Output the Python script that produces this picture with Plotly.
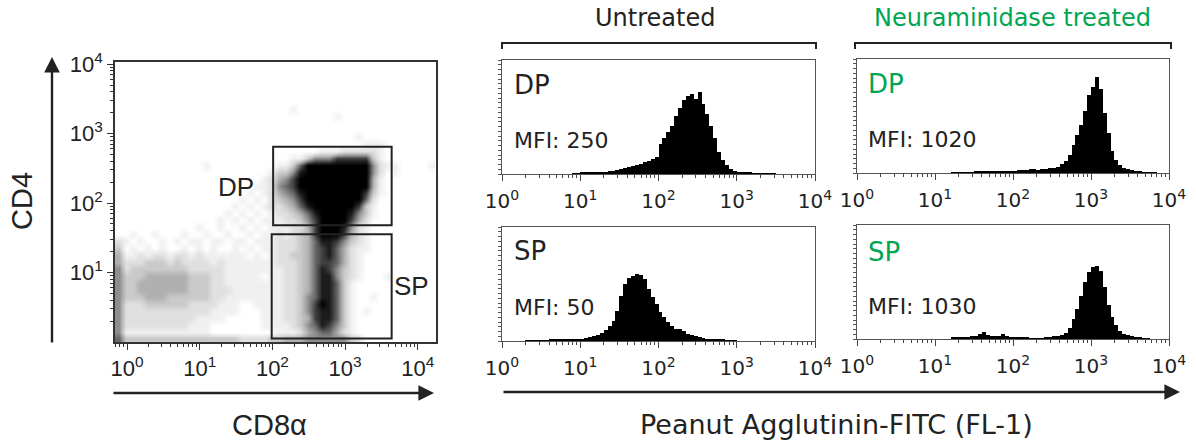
import numpy as np
import plotly.graph_objects as go

W, H = 1196, 447

# ---------------- data ----------------
DECADES = [0, 1, 2, 3, 4]
DECADE_LABELS = ["10<sup>0</sup>", "10<sup>1</sup>", "10<sup>2</sup>", "10<sup>3</sup>", "10<sup>4</sup>"]
GROUPS = ["Untreated", "Neuraminidase treated"]
POPULATIONS = ["DP", "DP", "SP", "SP"]
MFI_LABELS = ["MFI: 250", "MFI: 1020", "MFI: 50", "MFI: 1030"]

BIN_WIDTH = 0.05  # decades per histogram bin (80 bins from 10^0 to 10^4)
HIST_DP_UNTREATED = [0] * 18 + [0.5, 0.8,
    1.5, 1.7, 1.8, 2, 2, 2.2, 2.5, 3, 3.5, 4.5, 5, 6, 7, 8, 9, 10, 12, 13, 15, 17,
    30, 36, 42, 48, 58, 66, 74, 78, 80, 75, 82, 70, 60, 48, 36, 22, 14, 9, 5, 3.5,
    2.5, 2, 1.5, 1.2, 1, 0.8, 0.6, 0.5, 0.3, 0.3] + [0] * 10
HIST_DP_NEURAMINIDASE = [0] * 24 + [0.5, 0.5, 0.7, 0.8,
    1, 1, 1.2, 1.3, 1.5, 1.5, 1.6, 1.8, 1.8, 2, 2, 2.2,
    2.5, 3, 3.5, 3, 4, 4, 3.5, 4.5, 4.5, 5,
    5.5, 6.5, 9, 12, 18, 28, 38, 48, 62, 78,
    86, 96, 84, 60, 40, 22, 13, 8, 5, 4,
    3, 2, 1.5, 1, 0.8, 0.5, 0.5, 0, 0, 0]
HIST_SP_UNTREATED = [0] * 6 + [0.5, 0.5, 0.7, 0.8,
    1, 1, 1.2, 1.3, 1.2, 1.5, 1.5, 1.8, 1.8, 2,
    2.5, 3, 4, 5, 6.5, 8, 11, 15, 20, 30,
    45, 57, 63, 65, 67, 66, 62, 52, 44, 37,
    29, 24, 19, 15, 12, 12, 10, 7, 6, 5,
    4, 3.5, 2.5, 2, 2, 1.5, 1.5, 1, 0.5, 0.5] + [0] * 20
HIST_SP_NEURAMINIDASE = [0] * 24 + [1.5, 1.5, 2, 2, 2.5, 3, 3, 5, 7, 4,
    3, 3, 3.5, 5, 3, 2.5, 2.5, 2.5, 2, 2,
    1, 0.5, 0.5, 0.8, 1.5, 2.5, 3, 3.5, 4.5, 6,
    11, 20, 30, 43, 57, 67, 72, 73, 68, 52,
    34, 22, 14, 8, 5, 4, 3, 2, 1.5, 1,
    0.5, 0, 0, 0, 0, 0]
HISTOGRAMS = [HIST_DP_UNTREATED, HIST_DP_NEURAMINIDASE, HIST_SP_UNTREATED, HIST_SP_NEURAMINIDASE]

# CD4 (rows, top first) vs CD8a (columns) dot-plot darkness, 0-9 per 0.1-decade cell
DENSITY_CELL = 0.1
DENSITY_X_START = -0.165
DENSITY_ROWS = [
    "0000000000" "0000000000" "0000000000" "0000000000" "0000",
    "0000000000" "0000000000" "0000000000" "0000000000" "0000",
    "0000000000" "0000000000" "0000000000" "0000000000" "0000",
    "0000000000" "0000000000" "0000000000" "0000000000" "0000",
    "0000000000" "0000000000" "0000000000" "0000000000" "0000",
    "0000000000" "0000000000" "0000000000" "0000000000" "0000",
    "0000000000" "0000000000" "0000100000" "0000000000" "0000",
    "0000000000" "0000000000" "0000000000" "1000000000" "0000",
    "0000000000" "0000000000" "0000000000" "0000000000" "0000",
    "0000000000" "0000000000" "0000000000" "0000000000" "0000",
    "0000000000" "0000000000" "0000000000" "0001000000" "0000",
    "0000000000" "0000000000" "0000000000" "0000111000" "0000",
    "0000000000" "0000000000" "0000000011" "1222221000" "0000",
    "0000000000" "0000000000" "0000113555" "7777731000" "0000",
    "0000000000" "0010000000" "0011369999" "9999952110" "0001",
    "0000000000" "0000000000" "0133589999" "9999952010" "0000",
    "0000000000" "0000000000" "1245799999" "9999941000" "0000",
    "0000000000" "0000000001" "1256799999" "9999941000" "0000",
    "0000000000" "0000000010" "1245689999" "9999731000" "0000",
    "0000000000" "0000000101" "0234579999" "9999620000" "0000",
    "0000000000" "0000001010" "1223468999" "9997310000" "0000",
    "0000000000" "0000010101" "0122346899" "9985310000" "0000",
    "0000000000" "0000101010" "1112235799" "9974200000" "0000",
    "0000000000" "0100100101" "0111224799" "9852100000" "0000",
    "0010010001" "0010010010" "1121234799" "9742100000" "0000",
    "2101001010" "1101101101" "1122234688" "7532100000" "0000",
    "3010101001" "0101001010" "1122234678" "6421100000" "0000",
    "4112122122" "1211111101" "0122334678" "6421000000" "0000",
    "4222333232" "2221211111" "1122234677" "6421000000" "0000",
    "5233333333" "2222211111" "1112234687" "5321000000" "0000",
    "5333444444" "3332211111" "0112234688" "5321000100" "0000",
    "5334444444" "3332211111" "1112234688" "6310000000" "0000",
    "5334444444" "3332221111" "1112234688" "6310000000" "0000",
    "5333444333" "3332211111" "1112235688" "6310010000" "0000",
    "5222333333" "2222111001" "1112235798" "6310000000" "0000",
    "5222222222" "2221111000" "1112235788" "6310100000" "0000",
    "5222222222" "2111100000" "1112234788" "6310000000" "0000",
    "5222222222" "1110000000" "1111235687" "5310000000" "0000",
    "5111111111" "1110000000" "0011124566" "4210000000" "0000",
    "6333333333" "3333333222" "2334445555" "5532000000" "0000",
]
GATE_DP = [2.01, 3.64, 1.68, 2.81]   # x0, x1, y0, y1 in decades
GATE_SP = [1.99, 3.64, 0.05, 1.55]

# ---------------- helpers ----------------
GREEN = "#00a651"
INK = "#222222"
FONT_R = "DejaVu Sans"
FONT_L = "Liberation Sans"


def px_x(v):
    return v / W


def px_y(v):
    return 1 - v / H


MINOR = [float(np.log10(k) + d) for d in range(-1, 5) for k in range(2, 10)]

fig = go.Figure()

# ---- dot plot as density heatmap ----
ncol = 44
z = [[int(c) for c in row.ljust(ncol, "0")[:ncol]] for row in reversed(DENSITY_ROWS)]
xs = [DENSITY_X_START + DENSITY_CELL * (i + 0.5) for i in range(ncol)]
ys = [DENSITY_CELL * (j + 0.5) for j in range(len(z))]
gray_scale = [[0, "#ffffff"], [1 / 9, "#f0f0f0"], [2 / 9, "#e0e0e0"], [3 / 9, "#cacaca"],
              [4 / 9, "#b0b0b0"], [5 / 9, "#8e8e8e"], [6 / 9, "#686868"], [7 / 9, "#404040"],
              [8 / 9, "#1c1c1c"], [1, "#000000"]]
fig.add_trace(go.Heatmap(z=z, x=xs, y=ys, zmin=0, zmax=9, zsmooth="best",
                         colorscale=gray_scale,
                         showscale=False, hoverinfo="skip", xaxis="x", yaxis="y"))

for g in (GATE_DP, GATE_SP):
    fig.add_shape(type="rect", xref="x", yref="y", x0=g[0], x1=g[1], y0=g[2], y1=g[3],
                  line=dict(color=INK, width=2), fillcolor="rgba(0,0,0,0)", layer="above")

# ---- histograms ----
centers = [(i + 0.5) * BIN_WIDTH for i in range(80)]
hist_frames = [  # (left, right, top, bottom) in px
    (502, 815, 60, 174),
    (857, 1169, 59, 173),
    (502, 815, 227, 341),
    (857, 1169, 225, 339),
]
for k, h in enumerate(HISTOGRAMS):
    n = k + 2
    fig.add_trace(go.Bar(x=centers, y=h, width=BIN_WIDTH, marker=dict(color="black", line=dict(width=0)),
                         xaxis=f"x{n}", yaxis=f"y{n}", hoverinfo="skip"))

layout = dict(
    width=W, height=H, margin=dict(l=0, r=0, t=0, b=0, pad=0, autoexpand=False),
    paper_bgcolor="white", plot_bgcolor="white", showlegend=False, bargap=0,
)

common_axis = dict(showgrid=False, zeroline=False, showline=True, mirror=True, automargin=False, fixedrange=True)

layout["xaxis"] = dict(
    domain=[px_x(115), px_x(436)], range=[-0.165, 4.25], anchor="y",
    tickmode="array", tickvals=DECADES, ticktext=DECADE_LABELS,
    ticks="outside", ticklen=6, tickwidth=1.2, tickcolor="#333",
    minor=dict(tickmode="array", tickvals=MINOR, ticks="outside", ticklen=3, tickcolor="#333", showgrid=False),
    linecolor="#333", linewidth=1.5,
    tickfont=dict(family=FONT_L, size=22, color=INK), **common_axis,
)
layout["yaxis"] = dict(
    domain=[px_y(342), px_y(62)], range=[0, 4.03], anchor="x",
    tickmode="array", tickvals=DECADES[1:], ticktext=DECADE_LABELS[1:],
    ticks="outside", ticklen=6, tickwidth=1.2, tickcolor="#333",
    minor=dict(tickmode="array", tickvals=MINOR, ticks="outside", ticklen=3, tickcolor="#333", showgrid=False),
    linecolor="#333", linewidth=1.5,
    tickfont=dict(family=FONT_L, size=22, color=INK), **common_axis,
)

for k, fr in enumerate(hist_frames):
    n = k + 2
    l, r, t, b = fr
    layout[f"xaxis{n}"] = dict(
        domain=[px_x(l), px_x(r)], range=[0, 4], anchor=f"y{n}",
        tickmode="array", tickvals=DECADES, ticktext=DECADE_LABELS,
        ticks="outside", ticklen=6, tickwidth=1.2, tickcolor="#444",
        minor=dict(tickmode="array", tickvals=MINOR, ticks="outside", ticklen=3, tickcolor="#444", showgrid=False),
        linecolor="#555", linewidth=1.3,
        tickfont=dict(family=FONT_R, size=20, color=INK), ticklabelstandoff=3, **common_axis,
    )
    layout[f"yaxis{n}"] = dict(
        domain=[px_y(b), px_y(t)], range=[0, 114], anchor=f"x{n}",
        showticklabels=False, ticks="outside", ticklen=3, dtick=4.75, tickcolor="#555", tickwidth=1,
        linecolor="#555", linewidth=1.3, **common_axis,
    )

ann = []


def text(x, y, s, size, color=INK, family=FONT_R, xanchor="center", angle=0):
    ann.append(dict(x=px_x(x), y=px_y(y), xref="paper", yref="paper", text=s, showarrow=False,
                    font=dict(family=family, size=size, color=color), xanchor=xanchor, yanchor="middle",
                    textangle=angle))


def arrow(x0, y0, x1, y1):
    ann.append(dict(x=px_x(x1), y=px_y(y1), xref="paper", yref="paper", text="", showarrow=True,
                    ax=x0 - x1, ay=y0 - y1, axref="pixel", ayref="pixel",
                    arrowhead=2, arrowsize=1.3, arrowwidth=2.4, arrowcolor=INK, standoff=0))


# group titles
text(655, 18, GROUPS[0], 24)
text(1012, 18, GROUPS[1], 24, color=GREEN)

# histogram labels
label_pos = [(512, 85, 140), (866, 84, 139), (512, 251, 307), (866, 252, 306)]
for k, (x, yp, ym) in enumerate(label_pos):
    col = GREEN if k in (1, 3) else INK
    text(x, yp, POPULATIONS[k], 26, color=col, xanchor="left")
    text(x, ym, MFI_LABELS[k], 22, xanchor="left")

# dot-plot gate labels
text(236, 187, "DP", 26, family=FONT_L)
text(411, 286, "SP", 26, family=FONT_L)

# axis titles
text(22, 201, "CD4", 29, family=FONT_L, angle=-90)
text(269, 425, "CD8α", 29, family=FONT_L)
text(836, 424, "Peanut Agglutinin-FITC (FL-1)", 27)

# arrows
arrow(112, 393, 434, 393)
arrow(502, 392, 1180, 392)
arrow(52, 344, 52, 57)

layout["annotations"] = ann

# brackets
shapes = []
for (x0, x1) in [(502, 816), (855, 1171)]:
    shapes.append(dict(type="path", xref="paper", yref="paper",
                       path=f"M {px_x(x0)},{px_y(49)} L {px_x(x0)},{px_y(43)} L {px_x(x1)},{px_y(43)} L {px_x(x1)},{px_y(49)}",
                       line=dict(color=INK, width=2)))
layout["shapes"] = list(fig.layout.shapes) + shapes

fig.update_layout(**layout)
fig.write_html("out.html", config={"displayModeBar": False},
               post_script="document.body.style.margin='0';document.body.style.overflow='hidden';")
